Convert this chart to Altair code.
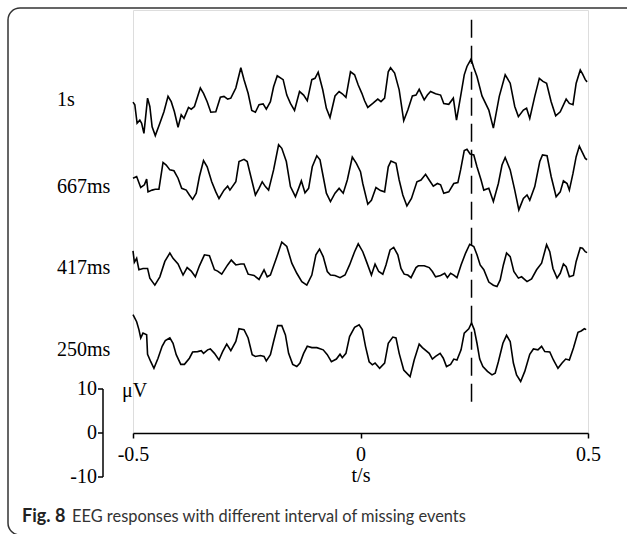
import altair as alt
import pandas as pd

# ---------------- data ----------------
trace_names = ["1s", "667ms", "417ms", "250ms"]

# times in ms, amplitudes in microvolts (relative to each trace's baseline)
t_1s = [-500, -496, -491, -485, -481, -476, -468, -463, -458, -451,
        -441, -432, -423, -416, -409, -401, -394, -388, -378, -372,
        -365, -352, -345, -337, -329, -318, -308, -300, -292, -285,
        -274, -263, -256, -247, -239, -231, -223, -214, -207, -198,
        -191, -183, -170, -162, -154, -145, -134, -125, -117, -107,
        -100, -93, -83, -75, -67, -56, -47, -40, -32, -22,
        -13, -5, 3, 9, 16, 27, 38, 45, 53, 61,
        66, 75, 85, 95, 104, 114, 122, 129, 140, 147,
        154, 165, 176, 183, 194, 204, 211, 220, 228, 234,
        243, 249, 256, 267, 282, 292, 305, 318, 329, 339,
        347, 358, 365, 372, 383, 393, 401, 409, 419, 429,
        439, 452, 459, 467, 474, 483, 488, 494, 498]
v_1s = [-0.5, -1.1, -5.3, -4.6, -5.3, -7.6, 0.4, -1.5, -6.1, -8.1,
        -5.3, -2.7, 0.8, -0.4, -2.7, -6.2, -3.4, -4.2, -1.7, -2.1,
        -1.5, 2.7, 1.5, -0.4, -2.8, -2.7, 0.6, 0.8, 0.2, 0.4,
        2.7, 7.3, 4.6, 1.5, -2.4, -2.8, -1.1, -0.9, -2.1, -0.4,
        3.0, 5.5, 4.6, 1.1, -0.8, -2.4, 1.9, 1.1, -0.2, 4.6,
        4.9, 6.3, 2.3, -1.9, -4.0, 0.9, 1.9, 1.4, 0.6, 6.4,
        5.7, 3.4, 1.5, -0.2, -1.7, -0.8, 0.2, -0.4, 0.4, 6.4,
        7.3, 6.1, 2.3, -4.7, -2.3, 0.9, 1.1, 2.4, 0.0, 1.1,
        1.9, 1.4, 1.1, -0.8, -1.0, 0.4, -4.6, 0.8, 5.7, 7.6,
        9.3, 7.3, 5.3, 0.9, -2.3, -6.4, 0.8, 5.7, 3.8, -1.5,
        -3.8, -2.3, -1.9, -4.2, 0.8, 4.9, 4.2, 3.8, -0.4, -3.6,
        -2.7, 0.2, -0.8, -1.1, 3.8, 6.8, 5.9, 4.6, 4.1]

t_667 = [-500, -492, -483, -475, -470, -467, -458, -451, -443, -434,
         -427, -419, -410, -401, -393, -383, -376, -369, -361, -354,
         -345, -337, -327, -318, -311, -300, -292, -287, -274, -267,
         -256, -249, -241, -231, -223, -216, -209, -202, -191, -180,
         -173, -163, -154, -143, -136, -130, -122, -114, -106, -96,
         -89, -82, -75, -66, -56, -47, -38, -29, -18, -9,
         0, 5, 16, 24, 34, 44, 53, 61, 67, 78,
         85, 93, 102, 112, 124, 133, 143, 151, 160, 169,
         176, 183, 194, 205, 214, 220, 228, 234, 241, 249,
         256, 265, 271, 282, 292, 303, 311, 318, 329, 339,
         348, 358, 366, 372, 383, 394, 400, 410, 419, 430,
         439, 446, 454, 459, 467, 474, 481, 487, 494, 498]
v_667 = [0.4, 0.8, -1.7, -1.1, 0.2, -2.7, -2.3, -2.1, -2.1, 4.0,
         3.4, 2.3, 2.1, 0.4, -1.9, -2.3, -3.4, -4.4, -3.0, 0.8,
         4.4, 3.0, -0.4, -2.7, -4.2, -2.3, -1.4, -2.3, -0.4, 4.2,
         4.7, 4.2, 0.8, -3.4, -1.9, -0.4, -1.5, -2.3, 2.3, 8.0,
         7.2, 4.2, -1.5, -3.8, -1.9, -0.2, -2.9, -1.9, 3.0, 5.5,
         4.6, 0.8, -3.0, -4.9, -3.0, -1.9, -3.0, 0.0, 5.2, 3.8,
         1.9, -0.8, -5.5, -4.6, -1.7, -2.4, -2.7, 3.0, 4.3, 3.8,
         0.0, -3.4, -5.9, -4.2, -0.4, 0.0, 1.3, 0.0, -1.4, -0.8,
         -1.1, -3.0, -2.7, -0.8, -0.6, 2.3, 6.7, 7.0, 5.9, 5.7,
         3.0, 0.0, -2.3, -1.9, -4.9, -0.8, 3.4, 5.1, 2.3, -2.3,
         -6.8, -4.2, -3.4, -4.6, -1.5, 4.2, 5.7, 5.5, 0.8, -3.8,
         -2.7, -0.2, -0.8, -2.3, 1.5, 5.3, 7.7, 6.4, 4.9, 4.6]

t_417 = [-500, -497, -492, -487, -478, -468, -463, -452, -441, -430,
         -419, -412, -401, -390, -381, -372, -363, -354, -343, -332,
         -321, -314, -305, -292, -284, -274, -263, -256, -247, -234,
         -223, -212, -205, -198, -185, -173, -162, -151, -140, -129,
         -118, -107, -98, -90, -82, -73, -66, -56, -45, -34,
         -24, -13, -5, 5, 13, 24, 32, 40, 49, 56,
         65, 73, 82, 89, 96, 104, 111, 122, 127, 140,
         151, 158, 165, 176, 185, 191, 198, 205, 212, 221,
         231, 240, 249, 256, 263, 271, 282, 292, 300, 307,
         314, 321, 329, 337, 347, 354, 366, 376, 387, 398,
         409, 416, 423, 432, 439, 446, 452, 459, 468, 474,
         483, 488, 494, 498]
v_417 = [3.2, 0.6, 1.5, -1.1, -0.8, -0.8, -3.0, -4.6, -2.7, 0.8,
         2.7, 1.5, 0.2, -2.3, -0.6, -1.4, -2.7, -0.2, 2.3, 2.1,
         -1.1, -1.4, -2.1, 0.0, 1.1, 0.0, 0.2, 0.2, -2.1, -2.4,
         -3.3, -1.1, -2.7, -2.3, 1.5, 5.2, 4.2, 0.4, -1.9, -3.8,
         -4.6, -2.3, 2.3, 3.6, 1.9, -1.5, -2.3, -2.4, -2.9, -2.3,
         0.0, 3.0, 4.8, 3.0, 0.8, -2.3, 0.2, -1.5, -2.1, 0.0,
         3.4, 4.0, 2.3, -0.8, -2.1, -2.3, -2.9, -0.6, -0.2, -0.2,
         -0.6, -1.5, -2.7, -2.4, -1.9, -2.9, -1.9, -2.3, -2.9, 0.0,
         2.7, 4.7, 4.2, 2.3, 0.0, -1.1, -3.9, -4.6, -4.9, -3.4,
         0.0, 2.7, 1.9, -1.5, -3.0, -2.7, -3.8, -3.2, -1.1, 0.4,
         4.6, 3.0, -0.8, -3.0, -1.9, 0.2, -0.4, -2.7, -2.4, 0.8,
         3.9, 3.8, 3.0, 2.8]

t_250 = [-500, -492, -487, -483, -478, -470, -468, -461, -454, -445,
         -436, -429, -419, -412, -405, -395, -387, -376, -369, -358,
         -350, -345, -336, -330, -321, -311, -303, -294, -285, -274,
         -267, -256, -247, -238, -231, -220, -212, -207, -198, -191,
         -182, -173, -165, -158, -149, -140, -133, -125, -117, -107,
         -96, -82, -73, -64, -53, -45, -40, -32, -24, -13,
         -3, 4, 11, 19, 26, 32, 42, 53, 61, 71,
         78, 85, 95, 109, 118, 129, 136, 151, 158, 165,
         175, 182, 189, 198, 205, 212, 221, 228, 238, 244,
         250, 256, 262, 269, 279, 289, 296, 303, 313, 321,
         329, 336, 343, 352, 361, 372, 380, 390, 398, 405,
         416, 424, 434, 443, 451, 459, 468, 478, 485, 492,
         496]
v_250 = [8.0, 6.4, 4.6, 2.7, 3.8, 3.4, -1.0, -2.7, -4.2, -1.9,
         0.8, 2.1, 2.7, 1.5, -1.1, -3.3, -3.3, -1.9, -0.5, -0.4,
         -0.2, -0.8, 0.0, 0.2, -0.8, -2.3, -0.4, 1.3, -0.2, 1.9,
         4.8, 4.6, 2.7, -1.1, -1.5, -1.3, -1.5, -2.5, -1.1, 1.9,
         5.5, 5.5, 3.4, -0.8, -3.3, -3.8, -3.0, -0.8, 0.8, 0.5,
         0.5, 0.0, -1.1, -2.7, -2.1, -1.0, -1.8, -0.8, 3.0, 5.1,
         5.7, 4.6, 0.8, -2.7, -3.4, -3.0, -4.2, -3.0, 1.5, 2.9,
         2.7, -0.8, -4.6, -6.1, -2.3, 1.3, 0.5, -0.8, -2.1, -1.5,
         -0.8, -1.9, -3.8, -3.3, -2.1, -2.3, 0.0, 3.8, 4.8, 6.1,
         4.6, 1.5, -2.1, -3.8, -4.9, -5.7, -5.3, -2.7, 1.5, 3.3,
         1.9, -3.0, -5.7, -7.2, -4.9, -1.0, 0.2, 0.0, 0.8, -0.4,
         -0.5, -2.3, -4.2, -3.0, -2.1, -2.3, 0.4, 4.0, 4.3, 4.8,
         4.6]

x_ticks = [-0.5, 0, 0.5]
scale_ticks = [10, 0, -10]
scale_tick_labels = ["10", "0", "-10"]
event_time = 0.244          # dashed marker, seconds
x_title = "t/s"
unit_label = "\u03bcV"
caption_bold = "Fig. 8"
caption_rest = "EEG responses with different interval of missing events"

# ---------------- layout ----------------
W, H = 455, 423
PX_PER_UV = 4.4
Y_TOP = H / PX_PER_UV
trace_offsets = [75.7, 57.5, 38.2, 18.9]       # uV, vertical stacking
label_y_px = [90, 177, 258, 340]               # label centres, px from plot top
dash_top, dash_bottom = 93.9, 5.7              # uV extent of the dashed marker
SERIF = "Liberation Serif"
SANS = "Lato"

series = [(t_1s, v_1s), (t_667, v_667), (t_417, v_417), (t_250, v_250)]
rows = []
for name, (ts, vs), off in zip(trace_names, series, trace_offsets):
    for t, v in zip(ts, vs):
        rows.append({"trace": name, "time": t / 1000.0, "amp": v + off})
df = pd.DataFrame(rows)

xs = alt.Scale(domain=[-0.5, 0.5], nice=False, zero=False)
ys = alt.Scale(domain=[0, Y_TOP], nice=False, zero=False)

minus_fix = "replace(format(datum.value, '.1~f'), '\u2212', '-')"

lines = alt.Chart(df).mark_line(color="black", strokeWidth=1.6).encode(
    x=alt.X("time:Q", scale=xs, title=x_title,
            axis=alt.Axis(values=x_ticks, labelExpr=minus_fix, grid=False,
                          domainColor="black", domainWidth=1.5,
                          tickColor="black", tickWidth=1.5, tickSize=5,
                          labelFont=SERIF, labelFontSize=20, labelColor="black",
                          labelPadding=6, labelOverlap=False, labelFlush=False,
                          titleFont=SERIF, titleFontSize=20, titleFontWeight="normal",
                          titleColor="black", titlePadding=1)),
    y=alt.Y("amp:Q", scale=ys, axis=None),
    detail="trace:N",
)

dash = alt.Chart(pd.DataFrame({"t": [event_time], "y1": [dash_top], "y2": [dash_bottom]})).mark_rule(
    color="black", strokeWidth=1.5, strokeDash=[18, 8]
).encode(x=alt.X("t:Q", scale=xs), y=alt.Y("y1:Q", scale=ys), y2="y2:Q")

bar_df = pd.DataFrame({"lo": [min(scale_ticks)], "hi": [max(scale_ticks)]})
scale_bar = alt.Chart(bar_df).mark_rule(color="black", strokeWidth=1.5).encode(
    x=alt.value(-30), y=alt.Y("lo:Q", scale=ys), y2="hi:Q")

tick_df = pd.DataFrame({"v": scale_ticks, "lab": scale_tick_labels})
scale_tick_marks = alt.Chart(tick_df).mark_rule(color="black", strokeWidth=1.5).encode(
    x=alt.value(-35), x2=alt.value(-30), y=alt.Y("v:Q", scale=ys))
scale_tick_text = alt.Chart(tick_df).mark_text(
    align="right", baseline="middle", font=SERIF, fontSize=20, color="black"
).encode(x=alt.value(-36), y=alt.Y("v:Q", scale=ys), text="lab:N")

unit = alt.Chart(pd.DataFrame({"u": [unit_label]})).mark_text(
    align="left", baseline="middle", font=SERIF, fontSize=20, color="black"
).encode(x=alt.value(-11), y=alt.value(381), text="u:N")

lab_df = pd.DataFrame({"name": trace_names, "py": label_y_px})
trace_labels = alt.Chart(lab_df).mark_text(
    align="left", baseline="middle", font=SERIF, fontSize=20, color="black"
).encode(x=alt.value(-76), y=alt.Y("py:Q", scale=None), text="name:N")

cap_b = alt.Chart(pd.DataFrame({"c": [caption_bold]})).mark_text(
    align="left", baseline="middle", font=SANS, fontSize=18, fontWeight="bold", color="#222"
).encode(x=alt.value(-111), y=alt.value(507), text="c:N")
cap_r = alt.Chart(pd.DataFrame({"c": [caption_rest]})).mark_text(
    align="left", baseline="middle", font=SANS, fontSize=16.4, color="#333"
).encode(x=alt.value(-61), y=alt.value(507), text="c:N")

frame = alt.Chart(pd.DataFrame({"f": [0]})).mark_rect(
    filled=False, stroke="#333", strokeWidth=1.5, cornerRadius=12
).encode(x=alt.value(-125), x2=alt.value(530), y=alt.value(-2), y2=alt.value(525))

chart = alt.layer(
    frame, lines, dash, scale_bar, scale_tick_marks, scale_tick_text, unit,
    trace_labels, cap_b, cap_r
).properties(
    width=W, height=H,
    autosize=alt.AutoSizeParams(type="none"),
    padding={"left": 133, "top": 10, "right": 39, "bottom": 101},
).configure_view(stroke=None).configure(background="white")

chart.save("out.html", embed_options={"renderer": "svg", "actions": False})
